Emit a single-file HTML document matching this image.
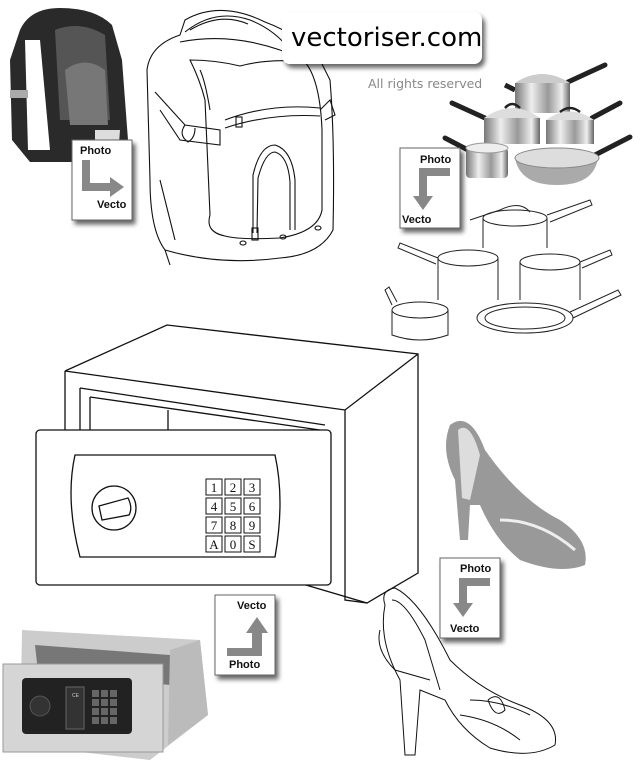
<!DOCTYPE html>
<html><head><meta charset="utf-8"><style>
html,body{margin:0;padding:0;background:#fff;}
svg{display:block;}
</style></head><body>
<svg width="640" height="768" viewBox="0 0 640 768" xmlns="http://www.w3.org/2000/svg" style="font-family:'Liberation Sans','DejaVu Sans',sans-serif">
<defs>
<filter id="sh" x="-20%" y="-20%" width="150%" height="160%"><feDropShadow dx="3" dy="4" stdDeviation="2.5" flood-color="#000" flood-opacity="0.6"/></filter>
<linearGradient id="metal" x1="0" y1="0" x2="1" y2="0"><stop offset="0" stop-color="#777"/><stop offset=".3" stop-color="#eee"/><stop offset=".6" stop-color="#999"/><stop offset=".85" stop-color="#eee"/><stop offset="1" stop-color="#666"/></linearGradient>
</defs>

<!-- photo backpack -->
<g>
<path d="M20,30 Q30,8 60,8 Q95,8 112,25 L122,60 L128,140 L120,162 L30,162 L12,140 L10,60 Z" fill="#2a2a2a"/>
<path d="M25,40 L40,40 L50,150 L28,150 Z" fill="#fff"/>
<path d="M55,30 Q80,20 105,35 L110,120 L60,120 Z" fill="#555"/>
<path d="M65,70 Q85,55 105,70 L108,125 L70,125 Z" fill="#777"/>
<rect x="10" y="90" width="18" height="8" fill="#aaa"/>
<path d="M95,130 L120,130 L118,158 L95,160 Z" fill="#ddd"/>
</g>

<!-- vector backpack -->
<g fill="none" stroke="#111" stroke-width="1.1">
<path d="M185,20 Q220,0 265,22 Q300,35 320,60 L330,80 Q335,140 333,230 Q320,255 280,258 Q220,266 165,250 Q150,230 150,180 L147,70 Q150,45 180,35 Z"/>
<path d="M180,42 Q240,30 305,60"/>
<path d="M185,32 Q215,8 250,20 Q275,30 290,50"/>
<path d="M190,30 Q220,12 248,24"/>
<path d="M190,60 Q215,60 240,66 Q270,58 305,62 Q320,80 322,130 L322,210 Q318,232 280,238 Q240,240 225,236 Q205,232 210,215 L205,100 Q200,80 190,60 Z"/>
<path d="M200,70 Q205,80 210,110"/>
<path d="M225,120 Q270,103 320,108"/>
<path d="M225,128 Q270,113 320,116"/>
<path d="M253,233 L253,175 Q260,145 275,145 Q292,150 295,180 L295,230"/>
<path d="M257,233 L258,178 Q265,152 275,152 Q288,156 290,182 L290,230"/>
<rect x="236" y="117" width="6" height="10"/>
<rect x="252" y="228" width="6" height="12"/>
<path d="M155,92 L185,125 L220,130 L220,145 L180,140 L160,110"/>
<path d="M185,125 Q178,135 188,142 Q195,138 195,128"/>
<path d="M320,110 L330,100 L335,115 L325,120"/>
<ellipse cx="243" cy="243" rx="3" ry="2"/><ellipse cx="283" cy="237" rx="3" ry="2"/><ellipse cx="318" cy="228" rx="3" ry="2"/>
<path d="M165,250 L170,265 M160,180 L175,240"/>
</g>

<!-- logo box -->
<rect x="282" y="12" width="200" height="52" rx="8" fill="#fff" filter="url(#sh)"/>
<text x="291" y="46" font-size="26" fill="#000" style="font-family:'DejaVu Sans',sans-serif">vectoriser.com</text>
<text x="368" y="88" font-size="12.5" fill="#888" style="font-family:'DejaVu Sans',sans-serif">All rights reserved</text>

<!-- photo pots -->
<g>
<line x1="568" y1="82" x2="605" y2="65" stroke="#222" stroke-width="5" stroke-linecap="round"/>
<line x1="515" y1="90" x2="505" y2="85" stroke="#222" stroke-width="5"/>
<path d="M515,83 Q542,65 570,83 Z" fill="#ccc"/>
<rect x="515" y="83" width="55" height="30" fill="url(#metal)"/>
<line x1="485" y1="118" x2="452" y2="103" stroke="#222" stroke-width="5" stroke-linecap="round"/>
<path d="M484,118 Q512,98 540,118 Z" fill="#ddd"/>
<rect x="484" y="118" width="56" height="26" fill="url(#metal)"/>
<path d="M505,108 Q512,100 520,108" stroke="#222" stroke-width="2.5" fill="none"/>
<line x1="592" y1="118" x2="620" y2="103" stroke="#222" stroke-width="5" stroke-linecap="round"/>
<path d="M546,120 Q570,103 594,120 Z" fill="#ddd"/>
<rect x="546" y="120" width="48" height="24" fill="url(#metal)"/>
<path d="M560,112 Q570,104 580,112" stroke="#222" stroke-width="2.5" fill="none"/>
<line x1="468" y1="150" x2="445" y2="138" stroke="#222" stroke-width="5" stroke-linecap="round"/>
<rect x="466" y="148" width="42" height="30" rx="4" fill="url(#metal)"/>
<ellipse cx="487" cy="148" rx="21" ry="5" fill="#eee" stroke="#999"/>
<line x1="595" y1="155" x2="630" y2="137" stroke="#222" stroke-width="5" stroke-linecap="round"/>
<path d="M515,158 Q520,185 557,185 Q594,185 598,158 Z" fill="#aaa"/>
<ellipse cx="557" cy="158" rx="42" ry="10" fill="#ddd" stroke="#888"/>
</g>

<!-- vector pots -->
<g fill="none" stroke="#222" stroke-width="1">
<ellipse cx="515" cy="218" rx="32" ry="8"/><path d="M483,218 L483,248 M547,218 L547,248"/>
<path d="M547,215 L590,200 L592,205 L550,222"/>
<ellipse cx="468" cy="258" rx="30" ry="8"/><path d="M438,258 L438,300 M498,258 L498,300"/>
<path d="M438,258 L400,243 L398,248 L436,264"/>
<ellipse cx="550" cy="262" rx="30" ry="8"/><path d="M520,262 L520,300 M580,262 L580,300"/>
<path d="M580,262 L610,250 L612,255 L582,268"/>
<ellipse cx="420" cy="310" rx="28" ry="8"/><path d="M392,310 L392,335 Q420,345 448,335 L448,310"/>
<path d="M392,305 L385,290 L389,287 L397,302"/>
<ellipse cx="525" cy="318" rx="48" ry="15"/><ellipse cx="525" cy="318" rx="40" ry="11"/>
<path d="M570,312 L618,290 L621,295 L573,318"/>
<path d="M470,220 L500,210 Q520,200 530,212"/>
</g>

<!-- big vector safe -->
<g fill="none" stroke="#111" stroke-width="1.3">
<path d="M65,371 L167,325 L418,354 L418,573 L367,603 L255,570"/>
<path d="M65,371 L345,410 L418,354"/>
<path d="M345,410 L345,600 L367,603"/>
<path d="M65,371 L65,430"/>
<path d="M80,388 L80,430 M90,397 L90,430"/>
<path d="M80,388 L325,425 M90,397 L320,430"/>
<path d="M168,410 L168,430"/>
<rect x="36" y="430" width="295" height="155" rx="4" fill="#fff"/>
<path d="M75,455 L275,455 Q285,500 275,557 L80,557 Q65,500 75,455 Z"/>
<circle cx="114" cy="508" r="22"/>
<path d="M99,506 L128,498 Q133,508 129,515 L102,520 Z"/>
</g>
<g font-size="13" text-anchor="middle" fill="#111" style="font-family:'Liberation Serif',serif">
<g fill="none" stroke="#111" stroke-width="1">
<rect x="206" y="479" width="16" height="16"/><rect x="225" y="479" width="16" height="16"/><rect x="244" y="479" width="16" height="16"/>
<rect x="206" y="498" width="16" height="16"/><rect x="225" y="498" width="16" height="16"/><rect x="244" y="498" width="16" height="16"/>
<rect x="206" y="517" width="16" height="16"/><rect x="225" y="517" width="16" height="16"/><rect x="244" y="517" width="16" height="16"/>
<rect x="206" y="536" width="16" height="16"/><rect x="225" y="536" width="16" height="16"/><rect x="244" y="536" width="16" height="16"/>
</g>
<text x="214" y="492">1</text><text x="233" y="492">2</text><text x="252" y="492">3</text>
<text x="214" y="511">4</text><text x="233" y="511">5</text><text x="252" y="511">6</text>
<text x="214" y="530">7</text><text x="233" y="530">8</text><text x="252" y="530">9</text>
<text x="214" y="549">A</text><text x="233" y="549">0</text><text x="252" y="549">S</text>
</g>

<!-- photo shoe -->
<g>
<path d="M450,425 Q470,410 485,450 Q520,500 560,520 Q590,540 585,565 Q560,575 520,560 Q495,540 480,505 L470,505 L468,540 L460,540 L455,480 Q440,450 450,425 Z" fill="#999"/>
<path d="M458,430 Q470,420 480,455 L470,500 L462,498 Z" fill="#ddd"/>
<path d="M500,520 Q540,520 575,550" stroke="#eee" stroke-width="3" fill="none"/>
</g>

<!-- vector shoe -->
<g fill="none" stroke="#111" stroke-width="1">
<path d="M385,605 Q380,590 395,588 Q420,600 450,660 Q480,690 520,705 Q560,720 555,745 Q530,760 490,748 Q460,730 445,700 L420,690 L415,755 L405,755 L400,680 Q378,640 385,605 Z"/>
<path d="M392,600 Q405,600 425,640 L440,690"/>
<path d="M380,630 Q375,650 395,670 L430,680"/>
<path d="M470,700 Q500,700 530,715 M460,715 Q495,720 520,740"/>
<path d="M488,700 Q500,690 505,710 Q495,720 488,700"/>
</g>

<!-- photo safe -->
<g>
<path d="M22,630 L200,640 L208,715 L150,760 L20,745 Z" fill="#ccc"/>
<path d="M35,645 L170,655 L170,685 L38,672 Z" fill="#777"/>
<path d="M170,650 L200,640 L208,715 L168,745 Z" fill="#bbb"/>
<rect x="3" y="664" width="160" height="88" fill="#d5d5d5" stroke="#999"/>
<rect x="22" y="678" width="110" height="56" rx="4" fill="#222"/>
<circle cx="40" cy="706" r="10" fill="#333" stroke="#555"/>
<rect x="66" y="687" width="18" height="42" fill="#333" stroke="#666"/>
<text x="72" y="697" font-size="5" fill="#ccc">CE</text>
<g fill="#666"><rect x="92" y="690" width="7" height="7"/><rect x="101" y="690" width="7" height="7"/><rect x="110" y="690" width="7" height="7"/>
<rect x="92" y="699" width="7" height="7"/><rect x="101" y="699" width="7" height="7"/><rect x="110" y="699" width="7" height="7"/>
<rect x="92" y="708" width="7" height="7"/><rect x="101" y="708" width="7" height="7"/><rect x="110" y="708" width="7" height="7"/>
<rect x="92" y="717" width="7" height="7"/><rect x="101" y="717" width="7" height="7"/><rect x="110" y="717" width="7" height="7"/></g>
</g>

<!-- label boxes -->
<g font-size="11" font-weight="bold" fill="#111">
<g filter="url(#sh)"><rect x="72" y="140" width="60" height="80" fill="#fff" stroke="#666"/></g>
<text x="80" y="154">Photo</text><text x="97" y="208">Vecto</text>
<path d="M82,160 L90,160 L90,183 L110,183 L110,177 L124,187 L110,197 L110,191 L82,191 Z" fill="#888"/>

<g filter="url(#sh)"><rect x="400" y="148" width="60" height="80" fill="#fff" stroke="#666"/></g>
<text x="420" y="163">Photo</text><text x="402" y="223">Vecto</text>
<path d="M450,168 L450,176 L427,176 L427,196 L433,196 L423,210 L413,196 L419,196 L419,168 Z" fill="#888"/>

<g filter="url(#sh)"><rect x="215" y="595" width="60" height="80" fill="#fff" stroke="#666"/></g>
<text x="237" y="609">Vecto</text><text x="229" y="668">Photo</text>
<path d="M227,648 L227,656 L262,656 L262,633 L268,633 L257,617 L246,633 L252,633 L252,648 Z" fill="#888"/>

<g filter="url(#sh)"><rect x="440" y="558" width="60" height="80" fill="#fff" stroke="#666"/></g>
<text x="460" y="572">Photo</text><text x="450" y="632">Vecto</text>
<path d="M490,578 L490,586 L467,586 L467,603 L473,603 L463,617 L453,603 L459,603 L459,578 Z" fill="#888"/>
</g>
</svg>
</body></html>
